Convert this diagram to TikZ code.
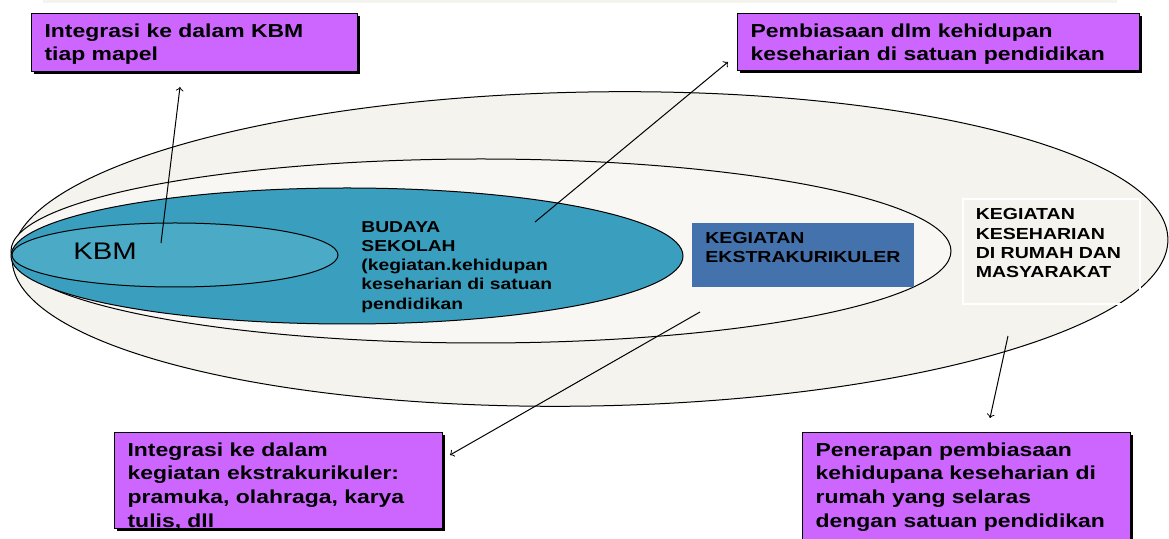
\documentclass[tikz,border=0pt]{standalone}
\usepackage{fontspec}
\setmainfont{Liberation Sans}[FakeStretch=1.22]
\usetikzlibrary{shapes.geometric,shadows}
\definecolor{myviolet}{RGB}{204,102,255}
\definecolor{myteal}{RGB}{58,159,190}
\definecolor{mytealkbm}{RGB}{75,170,197}
\definecolor{mysteel}{RGB}{68,114,172}
\definecolor{mycream}{RGB}{244,243,237}
\definecolor{mycreamlight}{RGB}{248,247,243}
\newcommand{\boxfont}{\fontsize{9.4}{11.8}\selectfont\bfseries}
\newcommand{\tagfont}{\fontsize{8}{9.6}\selectfont\bfseries}
\newcommand{\smallfont}{\fontsize{7.9}{9.6}\selectfont\bfseries}
\newcommand{\inbox}[3]{\parbox[t][#1][t]{#2}{#3}}
\tikzset{
    ring/.style={ellipse, draw, line width=0.5pt, inner sep=0pt},
    note/.style={anchor=north west, draw, fill=myviolet, line width=0.6pt,
        inner xsep=6.5pt, inner ysep=5pt, font=\boxfont,
        drop shadow={shadow xshift=1pt, shadow yshift=-1pt, opacity=1, fill=black}},
    tag/.style={anchor=north west, inner xsep=6.5pt, inner ysep=4.5pt, font=\tagfont},
    pointer/.style={->, line width=0.5pt}
}

\begin{document}
\begin{tikzpicture}[x=0.5pt, y=-0.5pt]
    \useasboundingbox (0,0) rectangle (1169,539);
    \clip (0,0) rectangle (1169,539);
    \fill[mycream] (43,0) rectangle (1117,3);

    % nested areas
    \node[ring, fill=mycream, minimum width=578pt, minimum height=157pt, rotate=1] (home) at (590,249) {};
    \node[ring, fill=mycreamlight, minimum width=470pt, minimum height=92pt] (school) at (481,251) {};
    \node[ring, fill=myteal, minimum width=336pt, minimum height=68pt] (culture) at (347,256) {};
    \node[ring, fill=mytealkbm, minimum width=163pt, minimum height=32pt] (kbm) at (175,255) {};

    \node[anchor=north west, inner sep=0pt, font=\fontsize{12}{14}\selectfont] (kbmtext) at (73,243) {KBM};
    \node[anchor=north west, inner sep=0pt, align=left, font=\smallfont] (culturetext) at (361,221)
        {BUDAYA\\SEKOLAH\\(kegiatan.kehidupan\\keseharian di satuan\\pendidikan};
    \node[tag, fill=mysteel] (ekskul) at (692,223) {\inbox{23pt}{98pt}{KEGIATAN\\EKSTRAKURIKULER}};
    \node[tag, draw=white, line width=0.8pt, inner ysep=5pt] (daily) at (962,198)
        {\inbox{42.5pt}{75.5pt}{KEGIATAN\\KESEHARIAN\\DI RUMAH DAN\\MASYARAKAT}};

    % notes
    \node[note] (kbmnote) at (31,13) {\inbox{19pt}{150pt}{Integrasi ke dalam KBM\\tiap mapel}};
    \node[note] (schoolnote) at (737,13) {\inbox{18.5pt}{188pt}{Pembiasaan dlm kehidupan\\keseharian di satuan pendidikan}};
    \node[note] (ekskulnote) at (114,432) {\inbox{38pt}{151pt}{Integrasi ke dalam\\kegiatan ekstrakurikuler:\\pramuka, olahraga, karya\\tulis, dll}};
    \node[note] (homenote) at (802,432) {\inbox{48pt}{151pt}{Penerapan pembiasaan\\kehidupana keseharian di\\rumah yang selaras\\dengan satuan pendidikan}};

    \coordinate (kbmfrom) at (161,243);
    \coordinate (kbmto) at (180,87);
    \coordinate (schoolfrom) at (535,222);
    \coordinate (schoolto) at (728,62);
    \coordinate (ekskulfrom) at (700,312);
    \coordinate (ekskulto) at (450,455);
    \coordinate (homefrom) at (1008,336);
    \coordinate (hometo) at (990,418);

    \draw[pointer] (kbmfrom) -- (kbmto);
    \draw[pointer] (schoolfrom) -- (schoolto);
    \draw[pointer] (ekskulfrom) -- (ekskulto);
    \draw[pointer] (homefrom) -- (hometo);
\end{tikzpicture}
\end{document}
